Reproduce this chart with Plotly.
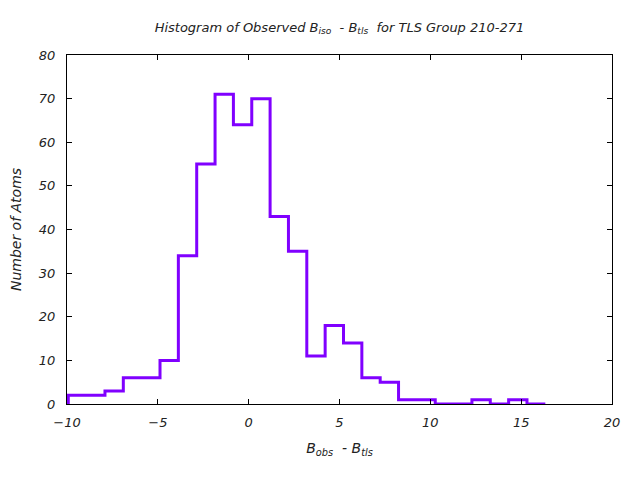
import plotly.graph_objects as go

bin_edges = [-9.93, -8.92, -7.91, -6.90, -5.89, -4.88, -3.87, -2.86, -1.85, -0.84,
             0.17, 1.18, 2.19, 3.20, 4.21, 5.22, 6.23, 7.24, 8.25, 9.26,
             10.27, 11.28, 12.29, 13.30, 14.31, 15.32, 16.33]
counts = [2, 2, 3, 6, 6, 10, 34, 55, 71, 64,
          70, 43, 35, 11, 18, 14, 6, 5, 1, 1,
          0, 0, 1, 0, 1, 0]

xs = [bin_edges[0]] + bin_edges
ys = [0] + counts + [counts[-1]]

fig = go.Figure()
fig.add_trace(go.Scatter(x=xs, y=ys, mode="lines", line=dict(shape="hv", color="#8000ff", width=3),
                         showlegend=False, hoverinfo="skip", cliponaxis=False))

font_family = "DejaVu Sans"
tf = dict(family=font_family, size=13, color="#222", style="italic")
lf = dict(family=font_family, size=14, color="#222", style="italic")
axis_common = dict(showline=True, linecolor="black", linewidth=1, mirror="allticks",
                   ticks="inside", ticklen=5, tickcolor="black", showgrid=False, zeroline=False,
                   automargin=False, tickfont=tf)

fig.update_layout(
    width=632, height=472,
    margin=dict(l=59, r=28, t=47, b=76, autoexpand=False),
    paper_bgcolor="white", plot_bgcolor="white",
    title=dict(text="Histogram of Observed B<sub>iso</sub>  - B<sub>tls</sub>  for TLS Group 210-271",
               x=0.5, xanchor="center", xref="paper", y=1 - 19 / 472, yanchor="middle",
               yref="container", automargin=False, font=tf),
    xaxis=dict(range=[-10, 20], tickvals=[-10, -5, 0, 5, 10, 15, 20], ticklabelstandoff=6,
               title=dict(text="B<sub>obs</sub>  - B<sub>tls</sub>", standoff=14, font=lf),
               **axis_common),
    yaxis=dict(range=[0, 80], tickvals=[0, 10, 20, 30, 40, 50, 60, 70, 80], ticklabelstandoff=8,
               title=dict(text="Number of Atoms", standoff=18, font=lf),
               **axis_common),
)

fig.write_html("out.html")
